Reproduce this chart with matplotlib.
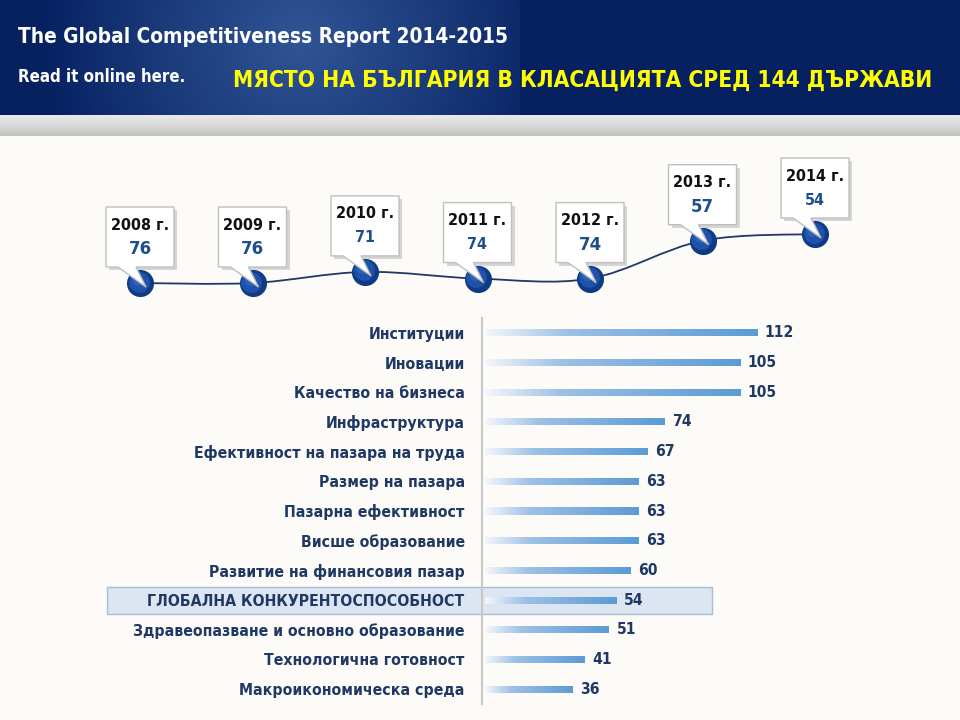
import numpy as np
import matplotlib
matplotlib.use('Agg')
import matplotlib.pyplot as plt
from matplotlib import font_manager
from matplotlib.colors import LinearSegmentedColormap, to_rgb
from matplotlib.patches import Rectangle, Polygon, PathPatch
from matplotlib.path import Path
from matplotlib.transforms import offset_copy

# data
years = [2008, 2009, 2010, 2011, 2012, 2013, 2014]
ranks = [76, 76, 71, 74, 74, 57, 54]

pillars = [
    'Институции', 'Иновации', 'Качество на бизнеса', 'Инфраструктура',
    'Ефективност на пазара на труда', 'Размер на пазара',
    'Пазарна ефективност', 'Висше образование',
    'Развитие на финансовия пазар', 'ГЛОБАЛНА КОНКУРЕНТОСПОСОБНОСТ',
    'Здравеопазване и основно образование', 'Технологична готовност',
    'Макроикономическа среда',
]
pillar_ranks = [112, 105, 105, 74, 67, 63, 63, 63, 60, 54, 51, 41, 36]
highlight = 'ГЛОБАЛНА КОНКУРЕНТОСПОСОБНОСТ'

header_title = 'The Global Competitiveness Report 2014-2015'
header_sub = 'Read it online here.'
chart_title = 'МЯСТО НА БЪЛГАРИЯ В КЛАСАЦИЯТА СРЕД 144 ДЪРЖАВИ'

# style
small_value = [False, False, True, True, False, False, True]
NAVY = '#062060'
LABEL = '#1F3864'
VALUE_BLUE = '#1F4E8C'

names = {f.name for f in font_manager.fontManager.ttflist}
if 'Liberation Sans Narrow' in names:
    FONT = dict(family=['Liberation Sans Narrow', 'DejaVu Sans'], fontweight='bold')
else:
    FONT = dict(family=['DejaVu Sans'], fontweight='bold', fontstretch='condensed')

fig = plt.figure(figsize=(9.6, 7.2), dpi=100, facecolor='#FDFBF8')
renderer = fig.canvas.get_renderer()


def fit(t, width):
    w = t.get_window_extent(renderer).width
    t.set_fontsize(t.get_fontsize() * width / w)
    return t.get_fontsize()


def fitted_size(ax, s, width):
    t = ax.text(0, 0, s, fontsize=12, **FONT)
    size = fit(t, width)
    t.remove()
    return size


# background / header in pixel coordinates
bg = fig.add_axes([0, 0, 1, 1])
bg.set_xlim(0, 960)
bg.set_ylim(720, 0)
bg.axis('off')

bg.add_patch(Rectangle((0, 0), 960, 115, fc=NAVY, ec='none'))
gx, gy = np.meshgrid(np.arange(0, 520), np.arange(0, 115))
r = np.hypot(gx - 300, (gy - 40) * 1.1)
glow = np.zeros((115, 520, 4))
glow[..., :3] = to_rgb('#4C78B8')
glow[..., 3] = 0.6 * np.clip(1 - r / 260, 0, 1) ** 0.9
bg.imshow(glow, extent=(0, 520, 115, 0), aspect='auto', zorder=1)

band = np.linspace(0, 1, 50)[:, None]
band_cmap = LinearSegmentedColormap.from_list('band', ['#EAEAEA', '#DADADA', '#C2C2C2'])
bg.imshow(band, cmap=band_cmap, extent=(0, 960, 136, 115), aspect='auto', zorder=1)

t = bg.text(18, 37, header_title, color='white', ha='left', va='center',
            fontsize=12, zorder=3, **FONT)
fit(t, 489)
t = bg.text(18, 77, header_sub, color='white', ha='left', va='center',
            fontsize=12, zorder=3, **FONT)
fit(t, 168)
t = bg.text(583, 80, chart_title, color='#FFFF00', ha='center', va='center',
            fontsize=12, zorder=3, **FONT)
fit(t, 698)

# bar chart of pillars
px_per_unit = 2.43
x0_px = 482
ax = fig.add_axes([x0_px / 960, 1 - 704 / 720, 300 / 960, 386 / 720])
ax.patch.set_alpha(0)
for side in ['top', 'right', 'bottom']:
    ax.spines[side].set_visible(False)
ax.spines['left'].set_color('#C8C8C8')
ax.spines['left'].set_linewidth(1.5)
ax.set_xticks([])

label_size = fitted_size(bg, pillars[10], 330)
value_size = fitted_size(bg, '112', 29)
ax.set_yticks(range(len(pillars)), pillars)
ax.tick_params(axis='y', length=0, pad=12.5, labelcolor=LABEL)
for lab in ax.get_yticklabels():
    lab.set_fontsize(label_size)
    lab.set_fontweight('bold')
    lab.set_family(FONT['family'])
    if 'fontstretch' in FONT:
        lab.set_stretch(FONT['fontstretch'])

bar_cmap = LinearSegmentedColormap.from_list(
    'bar', [(0, '#F4F7FB'), (0.3, '#9DC0E6'), (1, '#5B9BD5')])
grad = np.linspace(0, 1, 256)[None, :]
bar_h = 0.24
bars = ax.barh(range(len(pillars)), pillar_ranks, height=bar_h, color='none')
for i, (b, v) in enumerate(zip(bars, pillar_ranks)):
    im = ax.imshow(grad, cmap=bar_cmap, aspect='auto',
                   extent=(0, v, i + bar_h / 2, i - bar_h / 2), zorder=2)
    im.set_clip_path(b)
    ax.annotate(str(v), (v, i), xytext=(5.5, 0), textcoords='offset points',
                va='center', ha='left', color=LABEL, fontsize=value_size, **FONT)
ax.set_xlim(-3 / px_per_unit, -3 / px_per_unit + 300 / px_per_unit)
ax.set_ylim(len(pillars) - 0.5, -0.5)

# highlight row
hi = pillars.index(highlight)
hy = 720 - ax.transData.transform((0, hi))[1]
bg.add_patch(Rectangle((107, hy - 13.5), 605, 27, fc='#DCE6F2', ec='#A9BCD6',
                       lw=1, zorder=2))

# timeline
tl = fig.add_axes([83.75 / 960, 1 - 310 / 720, 787.5 / 960, 160 / 720])
tl.patch.set_alpha(0)
tl.axis('off')
tl.set_xlim(2007.5, 2014.5)
tl.set_ylim(88.1, 16.3)

# smooth connecting curve through the points (Catmull-Rom as cubic Bezier)
pts = np.column_stack([years, ranks]).astype(float)
ext = np.vstack([pts[0], pts, pts[-1]])
verts = [tuple(pts[0])]
codes = [Path.MOVETO]
for k in range(len(pts) - 1):
    p0, p1, p2, p3 = ext[k], ext[k + 1], ext[k + 2], ext[k + 3]
    verts += [tuple(p1 + (p2 - p0) / 6), tuple(p2 - (p3 - p1) / 6), tuple(p2)]
    codes += [Path.CURVE4] * 3
tl.add_patch(PathPatch(Path(verts, codes), fc='none', ec='#1F3864', lw=1.3, zorder=1))

tl.plot(years, ranks, 'o', ms=19.5, mfc='#0F3A85', mec='none', zorder=2)
hl = offset_copy(tl.transData, fig=fig, x=-1.5, y=1.5, units='dots')
tl.plot(years, ranks, 'o', ms=15, mfc='#1F52AA', mec='none', zorder=3,
        transform=hl)
hl2 = offset_copy(tl.transData, fig=fig, x=-3, y=3.5, units='dots')
tl.plot(years, ranks, 'o', ms=8, mfc='#3366BE', mec='none', alpha=0.7,
        zorder=4, transform=hl2)

# callouts
ov = fig.add_axes([0, 0, 1, 1])
ov.patch.set_alpha(0)
ov.set_xlim(0, 960)
ov.set_ylim(720, 0)
ov.axis('off')

year_size = fitted_size(ov, '2008 г.', 58)
big_size = fitted_size(ov, '76', 23)
small_size = fitted_size(ov, '71', 20)
bw, bh = 68, 60
for yr, rk, small in zip(years, ranks, small_value):
    dx, dy = tl.transData.transform((yr, rk))
    cx, cy = dx, 720 - dy
    left = cx - bw / 2
    top = cy - 16 - bh
    bottom = top + bh
    ov.add_patch(Rectangle((left + 3, top + 3), bw, bh, fc='#BDBDBD',
                           ec='none', alpha=0.6))
    outline = [(left, top), (left + bw, top), (left + bw, bottom),
               (left + 30, bottom), (cx + 6, cy + 4), (left + 12, bottom),
               (left, bottom)]
    ov.add_patch(Polygon(outline, closed=True, fc='white', ec='#BFBFBF', lw=1))
    ov.text(cx, top + 18, f'{yr} г.', ha='center', va='center',
            color='#111111', fontsize=year_size, **FONT)
    ov.text(cx, top + 42, str(rk), ha='center', va='center', color=VALUE_BLUE,
            fontsize=small_size if small else big_size, **FONT)

fig.savefig('out.png', dpi=100, facecolor=fig.get_facecolor())
